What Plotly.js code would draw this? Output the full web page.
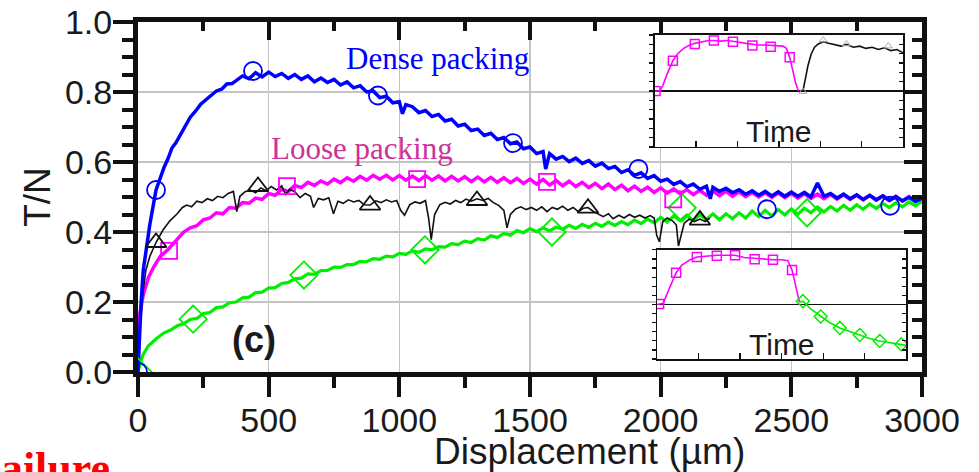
<!DOCTYPE html>
<html>
<head>
<meta charset="utf-8">
<script src="https://cdn.plot.ly/plotly-3.0.1.min.js"></script>
<style>
  html, body { margin: 0; padding: 0; background: #ffffff; }
  #chart { width: 979px; height: 472px; }
</style>
</head>
<body>
<div id="chart"></div>
<script>
// ---- Main panel: T/N versus displacement (um) ----
const denseX = [0,5,12,20,30,45,69,85,100,115,130,145,160,180,200,220,240,260,280,300,320,340,360,380,
  400,425,450,475,500,525,550,575,600,625,650,675,700,725,750,775,800,825,850,875,900,925,950,975,1000,1012,
  1025,1050,1075,1100,1125,1150,1175,1200,1225,1250,1275,1300,1325,1350,1375,1400,1425,1450,1475,1500,1525,1550,1560,
  1575,1600,1625,1650,1675,1700,1725,1750,1775,1800,1825,1850,1875,1900,1925,1950,1975,2000,2025,2050,2075,2100,
  2125,2150,2175,2190,2200,2225,2250,2275,2300,2325,2350,2375,2400,2425,2450,2475,2500,2525,2550,2575,2600,2625,
  2650,2675,2700,2725,2750,2775,2800,2825,2850,2875,2900,2925,2950,2975,3000];
const denseY = [0,0.10,0.20,0.29,0.35,0.42,0.52,0.555,0.585,0.61,0.64,0.655,0.675,0.70,0.728,0.745,0.765,0.778,0.792,0.803,0.808,0.823,0.824,0.836,
  0.846,0.838,0.855,0.843,0.857,0.844,0.853,0.839,0.850,0.836,0.846,0.829,0.840,0.827,0.836,0.820,0.829,0.812,0.818,0.800,0.803,0.784,0.788,0.769,0.772,0.738,
  0.764,0.758,0.741,0.747,0.730,0.736,0.717,0.722,0.703,0.708,0.690,0.694,0.676,0.682,0.664,0.670,0.652,0.657,0.638,0.643,0.624,0.630,0.580,
  0.624,0.608,0.616,0.601,0.611,0.596,0.604,0.588,0.597,0.581,0.587,0.570,0.578,0.562,0.569,0.553,0.561,0.545,0.551,0.536,0.544,0.529,
  0.537,0.522,0.531,0.495,0.528,0.516,0.525,0.512,0.521,0.508,0.518,0.505,0.516,0.503,0.515,0.502,0.514,0.502,0.513,0.500,0.540,0.502,
  0.510,0.497,0.508,0.495,0.506,0.493,0.505,0.492,0.503,0.490,0.501,0.489,0.499,0.487,0.496];
const denseMarkX = [0, 69, 440, 918, 1435, 1915, 2407, 2878];
const denseMarkY = [0, 0.52, 0.86, 0.79, 0.654, 0.58, 0.465, 0.475];

const looseX = [0,8,20,40,60,85,115,150,175,200,225,250,275,300,325,350,375,400,425,450,475,500,525,550,575,600,625,650,675,700,
  725,750,775,800,825,850,875,900,925,950,975,1000,1025,1050,1075,1100,1125,1150,1175,1200,1225,1250,1275,1300,1325,1350,1375,1400,
  1425,1450,1475,1500,1525,1550,1575,1600,1625,1650,1675,1700,1725,1750,1775,1800,1825,1850,1875,1900,1925,1950,1975,2000,2025,2050,
  2075,2100,2125,2150,2175,2200,2225,2250,2275,2300,2325,2350,2375,2400,2425,2450,2475,2500,2525,2550,2575,2600,2625,2650,2675,2700,
  2725,2750,2775,2800,2825,2850,2875,2900,2925,2950,2975,3000];
const looseY = [0.09,0.17,0.22,0.27,0.30,0.33,0.35,0.378,0.40,0.412,0.418,0.435,0.44,0.455,0.452,0.47,0.468,0.484,0.482,0.497,0.493,0.51,0.505,0.522,0.516,0.533,0.527,0.542,0.533,0.546,
  0.537,0.551,0.541,0.555,0.545,0.559,0.548,0.562,0.551,0.562,0.549,0.561,0.548,0.56,0.547,0.561,0.548,0.56,0.546,0.559,0.546,0.558,0.544,0.557,0.543,0.556,0.542,0.555,
  0.541,0.553,0.539,0.551,0.537,0.55,0.534,0.547,0.532,0.545,0.53,0.542,0.527,0.539,0.524,0.537,0.521,0.534,0.518,0.531,0.516,0.528,0.513,0.526,0.511,0.523,
  0.509,0.521,0.507,0.519,0.505,0.517,0.504,0.516,0.502,0.515,0.501,0.513,0.5,0.512,0.499,0.511,0.498,0.51,0.497,0.509,0.496,0.508,0.495,0.507,0.494,0.506,
  0.493,0.505,0.492,0.504,0.491,0.503,0.49,0.502,0.489,0.501,0.49,0.498];
const looseMarkX = [119, 570, 1068, 1565, 2048];
const looseMarkY = [0.346, 0.531, 0.551, 0.543, 0.493];

const refX = [0,8,18,30,45,69,95,122,150,170,187,205,225,245,265,285,305,325,345,365,378,390,410,430,450,470,490,510,530,550,
  565,580,600,620,640,660,672,690,710,730,748,765,785,805,825,845,865,888,910,930,950,970,990,1005,1020,1040,1060,1080,1100,1112,
  1122,1135,1155,1175,1195,1215,1235,1255,1275,1297,1320,1340,1360,1380,1400,1412,1425,1445,1465,1485,1505,1525,1545,1565,1585,1605,
  1625,1645,1665,1685,1705,1722,1740,1760,1780,1800,1818,1840,1860,1880,1900,1920,1940,1960,1975,1985,1995,2008,2025,2045,2060,2068,
  2078,2090,2110,2130,2150,2170,2188];
const refY = [0,0.12,0.22,0.29,0.33,0.37,0.405,0.432,0.452,0.47,0.477,0.472,0.488,0.484,0.495,0.49,0.502,0.498,0.51,0.516,0.458,0.502,0.515,0.52,0.512,0.526,0.518,0.53,0.52,0.532,
  0.507,0.522,0.515,0.498,0.51,0.502,0.47,0.496,0.492,0.498,0.452,0.488,0.482,0.492,0.486,0.49,0.478,0.477,0.489,0.484,0.492,0.486,0.49,0.462,0.448,0.478,0.486,0.482,0.49,0.44,
  0.378,0.45,0.478,0.485,0.48,0.49,0.484,0.494,0.488,0.495,0.49,0.496,0.484,0.476,0.462,0.412,0.45,0.466,0.472,0.464,0.47,0.462,0.472,0.458,0.47,0.465,
  0.474,0.462,0.47,0.458,0.468,0.47,0.46,0.452,0.444,0.452,0.438,0.448,0.44,0.45,0.442,0.448,0.44,0.447,0.44,0.39,0.372,0.43,0.44,0.432,0.42,0.36,
  0.39,0.425,0.437,0.43,0.437,0.43,0.44];
const refMarkX = [69, 459, 888, 1297, 1722, 2150];
const refMarkY = [0.37, 0.53, 0.477, 0.49, 0.468, 0.434];

const slowX = [0,10,20,40,70,100,125,150,175,200,225,250,275,300,325,350,375,400,425,450,475,500,525,550,575,600,625,650,675,700,
  725,750,775,800,825,850,875,900,925,950,975,1000,1025,1050,1075,1100,1125,1150,1175,1200,1225,1250,1275,1300,1325,1350,1375,1400,
  1425,1450,1475,1500,1525,1550,1575,1600,1625,1650,1675,1700,1725,1750,1775,1800,1825,1850,1875,1900,1925,1950,1975,2000,2025,2050,
  2075,2100,2125,2150,2175,2200,2225,2250,2275,2300,2325,2350,2375,2400,2425,2450,2475,2500,2525,2550,2575,2600,2625,2650,2675,2700,
  2725,2750,2775,2800,2825,2850,2875,2900,2925,2950,2975,3000];
const slowY = [0,0.03,0.05,0.075,0.095,0.112,0.12,0.132,0.138,0.15,0.153,0.167,0.17,0.184,0.186,0.198,0.2,0.212,0.214,0.227,0.228,0.24,0.241,0.253,0.256,0.266,0.268,0.28,0.279,0.29,
  0.29,0.3,0.299,0.307,0.307,0.316,0.315,0.324,0.322,0.331,0.329,0.339,0.336,0.346,0.342,0.352,0.349,0.358,0.357,0.367,0.364,0.374,0.37,0.381,0.377,0.389,0.384,0.396,
  0.391,0.404,0.398,0.41,0.401,0.412,0.403,0.414,0.408,0.419,0.41,0.422,0.413,0.425,0.416,0.428,0.419,0.43,0.421,0.434,0.424,0.437,0.426,0.442,0.428,0.446,
  0.432,0.448,0.433,0.449,0.436,0.452,0.435,0.452,0.438,0.455,0.44,0.46,0.444,0.462,0.446,0.464,0.449,0.466,0.451,0.468,0.455,0.471,0.457,0.473,0.46,0.476,
  0.462,0.478,0.465,0.48,0.467,0.482,0.47,0.484,0.472,0.486,0.475,0.488];
const slowMarkX = [0, 211, 635, 1098, 1584, 2082, 2560];
const slowMarkY = [0, 0.151, 0.277, 0.349, 0.40, 0.469, 0.455];

// ---- Upper inset: loose run followed by the reference run (time axis) ----
const topLooseX = [0,0.12,0.2,0.3,0.44,0.55,0.7,0.85,0.97,1.15,1.3,1.43,1.6,1.75,1.89,2.05,2.2,2.36,2.5,2.65,2.8,2.95,3.1,3.18,3.26,3.33,3.4,3.47];
const topLooseY = [0,0,0.1,0.3,0.54,0.66,0.76,0.82,0.85,0.88,0.9,0.9,0.89,0.9,0.88,0.87,0.85,0.83,0.82,0.82,0.81,0.8,0.8,0.76,0.6,0.38,0.15,0];
const topLooseMarkX = [0.02,0.44,0.97,1.43,1.89,2.36,2.8,3.26];
const topLooseMarkY = [0,0.54,0.84,0.9,0.88,0.81,0.79,0.6];
const topRefX = [3.5,3.58,3.64,3.7,3.78,3.86,3.95,4.07,4.2,4.35,4.5,4.63,4.8,4.95,5.1,5.25,5.4,5.55,5.7,5.85,6.0];
const topRefY = [0,0,0.22,0.45,0.66,0.78,0.84,0.88,0.85,0.82,0.8,0.83,0.78,0.8,0.76,0.78,0.74,0.77,0.72,0.74,0.68];
const topRefMarkX = [3.58,4.07,4.63,5.64];
const topRefMarkY = [-0.01,0.91,0.84,0.8];

// ---- Lower inset: loose run followed by the slow run (time axis) ----
const botLooseX = [0,0.15,0.3,0.46,0.6,0.8,0.96,1.2,1.44,1.66,1.88,2.1,2.35,2.6,2.79,3.0,3.15,3.25,3.35,3.43];
const botLooseY = [0,0.02,0.3,0.58,0.72,0.82,0.87,0.89,0.9,0.9,0.9,0.86,0.84,0.83,0.82,0.82,0.8,0.63,0.3,0.04];
const botLooseMarkX = [0.05,0.46,0.96,1.44,1.88,2.35,2.79,3.25];
const botLooseMarkY = [0.01,0.58,0.87,0.89,0.9,0.83,0.82,0.63];
const botSlowX = [3.43,3.51,3.7,3.94,4.15,4.4,4.65,4.88,5.1,5.36,5.6,5.88,6.0];
const botSlowY = [0.04,0.06,-0.08,-0.22,-0.33,-0.43,-0.5,-0.56,-0.62,-0.67,-0.7,-0.73,-0.75];
const botSlowMarkX = [3.51,3.94,4.4,4.88,5.36,5.88];
const botSlowMarkY = [0.06,-0.22,-0.43,-0.56,-0.67,-0.73];

// ---- Axis settings ----
const xRange = [0, 3000];
const yRange = [0, 1.0];
const xTicks = [0, 500, 1000, 1500, 2000, 2500, 3000];
const yTicks = [0, 0.2, 0.4, 0.6, 0.8, 1.0];
const yTickText = ['0.0', '0.2', '0.4', '0.6', '0.8', '1.0'];
const insetTopDomainX = [0.659, 0.976];
const insetTopDomainY = [0.643, 0.963];
const insetBotDomainX = [0.662, 0.98];
const insetBotDomainY = [0.037, 0.349];

const BLUE = '#0000ff', MAG = '#ff00ff', GREEN = '#00ee00', BLACK = '#111111';
const SANS = 'Liberation Sans, Arial, sans-serif';
const SERIF = 'Liberation Serif, Times New Roman, serif';

function lineTrace(x, y, color, width, xa, ya) {
  return { x: x, y: y, type: 'scatter', mode: 'lines', xaxis: xa, yaxis: ya,
           line: { color: color, width: width }, hoverinfo: 'skip' };
}
function markTrace(x, y, color, symbol, size, xa, ya, lw) {
  // open symbols take their outline colour from marker.color
  return { x: x, y: y, type: 'scatter', mode: 'markers', xaxis: xa, yaxis: ya,
           marker: { symbol: symbol, size: size, color: color,
                     line: { color: color, width: lw || 1.8 } }, hoverinfo: 'skip' };
}
function axisCarrier(xa, ya) {
  return { x: [null], y: [null], type: 'scatter', mode: 'lines', xaxis: xa, yaxis: ya, hoverinfo: 'skip' };
}

const traces = [
  lineTrace(slowX, slowY, GREEN, 3.2, 'x', 'y'),
  lineTrace(looseX, looseY, MAG, 3.5, 'x', 'y'),
  lineTrace(refX, refY, BLACK, 1.6, 'x', 'y'),
  lineTrace(denseX, denseY, BLUE, 3.5, 'x', 'y'),
  markTrace(slowMarkX, slowMarkY, GREEN, 'diamond-open', 21, 'x', 'y'),
  markTrace(looseMarkX, looseMarkY, MAG, 'square-open', 16, 'x', 'y'),
  markTrace(refMarkX, refMarkY, BLACK, 'triangle-up-open', 18, 'x', 'y'),
  markTrace(denseMarkX, denseMarkY, BLUE, 'circle-open', 18, 'x', 'y'),
  // empty traces that carry the top/right frame axes of the panel and insets
  axisCarrier('x2', 'y'),
  axisCarrier('x', 'y2'),
  axisCarrier('x3', 'y5'),
  axisCarrier('x4', 'y6'),
  // upper inset
  lineTrace(topLooseX, topLooseY, MAG, 1.6, 'x3', 'y3'),
  markTrace(topLooseMarkX, topLooseMarkY, MAG, 'square-open', 9, 'x3', 'y3', 1.5),
  lineTrace(topRefX, topRefY, BLACK, 1.6, 'x3', 'y3'),
  markTrace(topRefMarkX, topRefMarkY, '#aaaaaa', 'triangle-up-open', 7, 'x3', 'y3', 1),
  // lower inset
  lineTrace(botLooseX, botLooseY, MAG, 1.6, 'x4', 'y4'),
  markTrace(botLooseMarkX, botLooseMarkY, MAG, 'square-open', 9, 'x4', 'y4', 1.5),
  lineTrace(botSlowX, botSlowY, GREEN, 1.6, 'x4', 'y4'),
  markTrace(botSlowMarkX, botSlowMarkY, GREEN, 'diamond-open', 10, 'x4', 'y4', 1.5)
];

function toData(dom, range) {
  return [range[0] + dom[0] * (range[1] - range[0]), range[0] + dom[1] * (range[1] - range[0])];
}
const topBoxX = toData(insetTopDomainX, xRange), topBoxY = toData(insetTopDomainY, yRange);
const botBoxX = toData(insetBotDomainX, xRange), botBoxY = toData(insetBotDomainY, yRange);

const tickFont = { family: SANS, size: 34, color: '#1a1a1a' };

function insetX(dom, anchor) {
  return { domain: dom, anchor: anchor, range: [0, 6], showline: true, linecolor: BLACK, linewidth: 1.5,
           mirror: true, ticks: 'inside', ticklen: 6, tickwidth: 1.3, tickcolor: BLACK, dtick: 1, tick0: 0,
           showticklabels: false, showgrid: false, zeroline: false };
}
function insetY(dom, anchor) {
  return { domain: dom, anchor: anchor, range: [-1, 1], showline: true, linecolor: BLACK, linewidth: 1.5,
           mirror: true, ticks: 'outside', ticklen: 4, tickwidth: 1.2, tickcolor: BLACK, dtick: 1 / 6, tick0: 0,
           showticklabels: false, showgrid: false, zeroline: true, zerolinecolor: BLACK, zerolinewidth: 1.5 };
}
function insetYRight(base, anchor) {
  return { overlaying: base, side: 'right', anchor: anchor, range: [-1, 1], showline: false,
           ticks: 'inside', ticklen: 4, tickwidth: 1.2, tickcolor: BLACK, dtick: 1 / 6, tick0: 0,
           showticklabels: false, showgrid: false, zeroline: false };
}

const layout = {
  width: 979, height: 472,
  margin: { l: 138, r: 57, t: 22, b: 100 },
  paper_bgcolor: '#ffffff', plot_bgcolor: '#ffffff',
  showlegend: false,
  xaxis: {
    range: xRange, tickvals: xTicks, ticktext: xTicks.map(String), tickfont: tickFont,
    ticks: 'outside', ticklen: 20, tickwidth: 4, tickcolor: BLACK, ticklabelstandoff: -6,
    minor: { dtick: 250, ticks: 'outside', ticklen: 11, tickwidth: 4, tickcolor: BLACK, showgrid: false },
    showline: true, linecolor: BLACK, linewidth: 5,
    showgrid: true, gridcolor: '#c4c4c4', gridwidth: 1.5, zeroline: false
  },
  yaxis: {
    range: yRange, tickvals: yTicks, ticktext: yTickText, tickfont: tickFont,
    ticks: 'outside', ticklen: 20, tickwidth: 4, tickcolor: BLACK, ticklabelstandoff: -6,
    minor: { dtick: 0.05, ticks: 'outside', ticklen: 11, tickwidth: 4, tickcolor: BLACK, showgrid: false },
    showline: true, linecolor: BLACK, linewidth: 5,
    showgrid: true, gridcolor: '#c4c4c4', gridwidth: 1.5, zeroline: false,
    title: { text: 'T/N', font: { family: SANS, size: 37, color: '#1a1a1a' }, standoff: 4 }
  },
  xaxis2: {
    overlaying: 'x', side: 'top', anchor: 'y', range: xRange, tickvals: xTicks, showticklabels: false,
    ticks: 'inside', ticklen: 18, tickwidth: 4, tickcolor: BLACK,
    minor: { dtick: 250, ticks: 'inside', ticklen: 9, tickwidth: 4, tickcolor: BLACK, showgrid: false },
    showline: true, linecolor: BLACK, linewidth: 5, showgrid: false, zeroline: false
  },
  yaxis2: {
    overlaying: 'y', side: 'right', anchor: 'x', range: yRange, tickvals: yTicks, showticklabels: false,
    ticks: 'inside', ticklen: 18, tickwidth: 4, tickcolor: BLACK,
    minor: { dtick: 0.05, ticks: 'inside', ticklen: 10, tickwidth: 4, tickcolor: BLACK, showgrid: false },
    showline: true, linecolor: BLACK, linewidth: 5, showgrid: false, zeroline: false
  },
  xaxis3: insetX(insetTopDomainX, 'y3'),
  yaxis3: insetY(insetTopDomainY, 'x3'),
  xaxis4: insetX(insetBotDomainX, 'y4'),
  yaxis4: insetY(insetBotDomainY, 'x4'),
  yaxis5: insetYRight('y3', 'x3'),
  yaxis6: insetYRight('y4', 'x4'),
  shapes: [
    { type: 'rect', xref: 'x', yref: 'y', layer: 'between', x0: topBoxX[0], x1: topBoxX[1], y0: topBoxY[0], y1: topBoxY[1],
      fillcolor: '#ffffff', line: { width: 0 } },
    { type: 'rect', xref: 'x', yref: 'y', layer: 'between', x0: botBoxX[0], x1: botBoxX[1], y0: botBoxY[0], y1: botBoxY[1],
      fillcolor: '#ffffff', line: { width: 0 } }
  ],
  annotations: [
    // x-axis title, set right of centre under the axis
    { text: 'Displacement (µm)', x: 0.5765, y: -0.226, xref: 'paper', yref: 'paper', xanchor: 'center', yanchor: 'middle',
      showarrow: false, font: { family: SANS, size: 37, color: '#1a1a1a' } },
    { text: 'Dense packing', x: 1146, y: 0.897, xref: 'x', yref: 'y', showarrow: false,
      font: { family: SERIF, size: 31, color: '#0000ff' } },
    { text: 'Loose packing', x: 857, y: 0.64, xref: 'x', yref: 'y', showarrow: false,
      font: { family: SERIF, size: 31, color: '#cc3399' } },
    { text: '<b>(c)</b>', x: 444, y: 0.094, xref: 'x', yref: 'y', showarrow: false,
      font: { family: SANS, size: 36, color: '#1a1a1a' } },
    { text: 'Time', x: 3.0, y: -0.72, xref: 'x3', yref: 'y3', showarrow: false,
      font: { family: SANS, size: 30, color: '#1a1a1a' } },
    { text: 'Time', x: 3.0, y: -0.74, xref: 'x4', yref: 'y4', showarrow: false,
      font: { family: SANS, size: 30, color: '#1a1a1a' } },
    { text: '<b>Failure</b>', x: -0.033, y: -0.2, xref: 'paper', yref: 'paper', xanchor: 'right', yanchor: 'top',
      showarrow: false, font: { family: SERIF, size: 44, color: '#ff0000' } }
  ]
};

Plotly.newPlot('chart', traces, layout, { displayModeBar: false, staticPlot: true });
</script>
</body>
</html>
